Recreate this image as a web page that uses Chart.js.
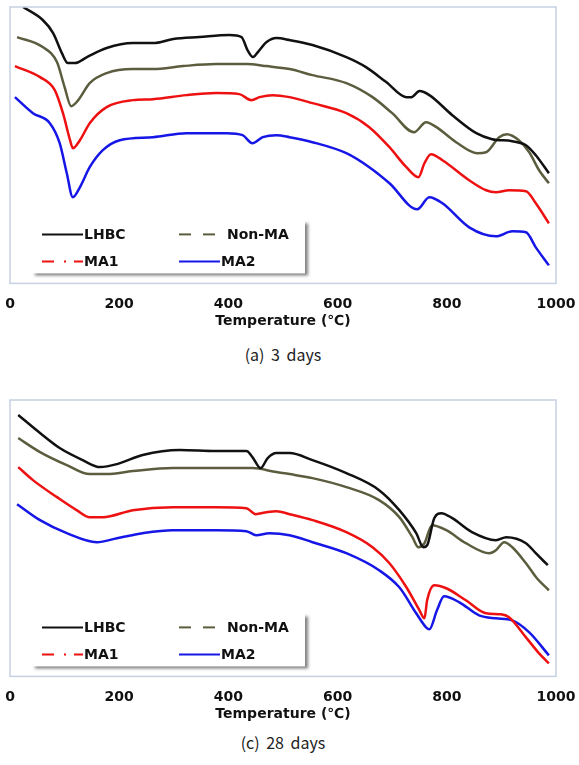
<!DOCTYPE html>
<html>
<head>
<meta charset="utf-8">
<script src="https://cdn.jsdelivr.net/npm/chart.js@4"></script>
<style>
  body { margin: 0; background: #fff; width: 579px; height: 765px; position: relative; overflow: hidden; }
  .box { position: absolute; left: 0; width: 579px; height: 332px; }
  .cap { position: absolute; left: 0; width: 566px; text-align: center; font-family: "Noto Sans CJK KR", "DejaVu Sans", sans-serif; font-size: 16px; color: #222; word-spacing: 3px; }
</style>
</head>
<body>
<div class="box" style="top:0"><canvas id="chart3"></canvas></div>
<div class="cap" style="top:342px">(a) 3 days</div>
<div class="box" style="top:393px"><canvas id="chart28"></canvas></div>
<div class="cap" style="top:730px">(c) 28 days</div>
<script>
// series: [temperature, signal] (signal in arbitrary units)
const seriesNames = ["LHBC", "Non-MA", "MA1", "MA2"];
const xTicks = [0, 200, 400, 600, 800, 1000];

const lhbc3 = [[24,276],[60,263],[79,250],[95,230],[106,220],[119,220],[141,226],[177,235],[225,240],[262,240],[299,244],[347,246],[402,248],[424,246],[435,233],[445,226],[454,231],[470,241],[488,245],[512,243],[554,238],[616,226],[652,216],[689,201],[726,186],[735,186],[750,192],[768,188],[810,168],[854,150],[883,144],[920,142],[945,138],[963,128],[987,110]];
const nonma3 = [[13,246],[60,236],[86,221],[100,196],[112,177],[125,183],[146,200],[177,210],[225,214],[262,214],[317,217],[378,219],[433,219],[470,217],[512,214],[554,208],[616,200],[664,186],[700,170],[740,151],[762,161],[781,156],[817,141],[856,130],[872,131],[896,146],[910,149],[932,143],[951,131],[969,113],[987,100]];
const ma1_3 = [[9,217],[55,206],[82,193],[97,170],[110,143],[115,135],[128,143],[146,160],[177,176],[225,183],[262,184],[323,188],[378,190],[420,189],[442,183],[457,186],[481,188],[512,186],[554,180],[616,170],[658,156],[695,136],[726,116],[748,106],[759,120],[771,129],[792,123],[841,103],[872,93],[890,91],[914,93],[945,92],[963,80],[987,60]];
const ma2_3 = [[9,186],[42,170],[73,160],[91,140],[104,110],[115,86],[128,96],[146,116],[170,133],[201,143],[262,146],[323,150],[397,150],[426,148],[444,140],[463,146],[488,148],[512,146],[554,141],[616,130],[658,116],[695,100],[746,74],[768,86],[792,80],[841,56],[890,47],[920,52],[945,51],[963,36],[987,18]];

const lhbc28 = [[15,261],[55,243],[91,228],[133,216],[165,209],[196,212],[243,221],[311,226],[378,225],[433,225],[444,219],[459,208],[472,218],[488,223],[512,223],[554,216],[616,203],[676,186],[713,166],[744,143],[757,129],[764,131],[777,158],[790,163],[810,158],[846,144],[890,136],[909,139],[945,133],[963,123],[985,111]];
const nonma28 = [[15,238],[55,224],[104,211],[146,202],[177,202],[225,205],[298,208],[378,208],[444,208],[488,204],[512,202],[554,198],[616,189],[676,176],[713,159],[737,139],[748,129],[759,133],[773,151],[799,146],[835,133],[878,123],[890,126],[905,134],[920,129],[945,113],[965,98],[987,86]];
const ma1_28 = [[15,209],[42,196],[86,179],[122,166],[146,159],[170,159],[225,166],[298,169],[378,169],[433,168],[450,162],[470,164],[488,165],[512,162],[554,156],[616,144],[664,129],[695,113],[726,89],[750,66],[759,58],[764,76],[777,91],[799,88],[835,76],[872,63],[899,62],[914,59],[945,39],[969,23],[987,13]];
const ma2_28 = [[13,172],[55,156],[104,143],[159,134],[196,138],[243,143],[298,146],[378,146],[433,145],[451,141],[475,143],[512,141],[554,134],[616,123],[676,106],[713,89],[744,63],[762,49],[768,47],[782,66],[795,80],[823,74],[859,61],[890,58],[920,56],[951,44],[987,21]];

const colors = ["#111111", "#5c5d3e", "#ee1111", "#1616e6"];
const legendDash = [[], [12, 12], [12, 10, 2, 8], []];

// frame round the plot area
const frame = {
  id: "frame",
  afterDraw(chart) {
    const { ctx, chartArea: a } = chart;
    ctx.save();
    ctx.strokeStyle = "#c6d1e2";
    ctx.lineWidth = 1.5;
    ctx.strokeRect(a.left, a.top, a.right - a.left, a.bottom - a.top);
    ctx.restore();
  },
};

// legend box inside the plot, bottom left, with a shadow
const innerLegend = {
  id: "innerLegend",
  afterDatasetsDraw(chart) {
    const { ctx, chartArea: a } = chart;
    const x0 = a.left + 22, y0 = a.bottom - 63, w = 273, h = 53;
    ctx.save();
    ctx.shadowColor = "rgba(0,0,0,0.5)";
    ctx.shadowOffsetX = 3;
    ctx.shadowOffsetY = 3;
    ctx.shadowBlur = 3;
    ctx.fillStyle = "#fff";
    ctx.fillRect(x0, y0, w, h);
    ctx.restore();

    ctx.save();
    ctx.font = "bold 14px 'DejaVu Sans'";
    ctx.textBaseline = "middle";
    chart.data.datasets.forEach((ds, i) => {
      const col = i % 2, row = Math.floor(i / 2);
      const lx = x0 + 10 + col * 137;
      const ly = y0 + 14 + row * 27;
      ctx.strokeStyle = ds.borderColor;
      ctx.lineWidth = 2;
      ctx.setLineDash(legendDash[i]);
      ctx.beginPath();
      ctx.moveTo(lx, ly);
      ctx.lineTo(lx + (i === 1 ? 36 : 41), ly);
      ctx.stroke();
      ctx.setLineDash([]);
      ctx.fillStyle = "#111";
      ctx.fillText(ds.label, lx + (i === 1 ? 48 : 42), ly + 1);
    });
    ctx.restore();
  },
};

function toPoints(arr) {
  return arr.map((p) => ({ x: p[0], y: p[1] }));
}

function makeChart(id, series) {
  new Chart(document.getElementById(id), {
    type: "line",
    data: {
      datasets: series.map((s, i) => ({
        label: seriesNames[i],
        data: toPoints(s),
        borderColor: colors[i],
        borderWidth: 2.5,
        pointRadius: 0,
        cubicInterpolationMode: "monotone",
        fill: false,
      })),
    },
    options: {
      responsive: true,
      maintainAspectRatio: false,
      animation: false,
      layout: { padding: { left: 10, right: 23, top: 7, bottom: 2 } },
      plugins: {
        legend: { display: false },
        tooltip: { enabled: false },
      },
      scales: {
        x: {
          type: "linear",
          min: 0,
          max: 1000,
          afterBuildTicks: (axis) => {
            axis.ticks = xTicks.map((v) => ({ value: v }));
          },
          grid: { display: false, drawTicks: true, tickLength: 13 },
          border: { display: false },
          ticks: {
            padding: 0,
            maxRotation: 0,
            color: "#111",
            callback: (v) => String(v),
            font: { family: "DejaVu Sans", size: 14, weight: "bold" },
          },
          title: {
            display: true,
            text: "Temperature (℃)",
            color: "#111",
            padding: { top: 0, bottom: 0 },
            font: { family: "DejaVu Sans", size: 14, weight: "bold" },
          },
        },
        y: { display: false, min: 0, max: 276 },
      },
    },
    plugins: [frame, innerLegend],
  });
}

makeChart("chart3", [lhbc3, nonma3, ma1_3, ma2_3]);
makeChart("chart28", [lhbc28, nonma28, ma1_28, ma2_28]);
</script>
</body>
</html>
